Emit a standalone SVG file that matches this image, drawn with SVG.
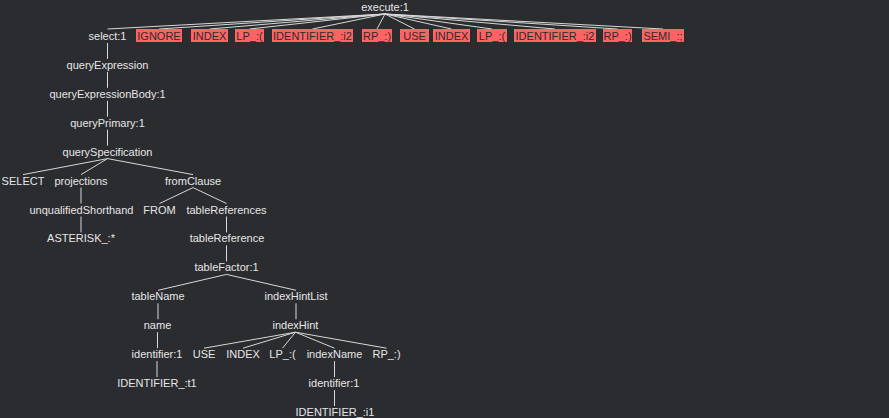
<svg xmlns="http://www.w3.org/2000/svg" width="889" height="418" viewBox="0 0 889 418">
<style>
text{font-family:"Liberation Sans",Arial,sans-serif;font-size:11px;fill:#e6e6e6;text-anchor:middle}
.tok rect{fill:#ff6363}
.tok text{fill:#2b2c30}
#edges line{stroke:#d8d8d8;stroke-width:1}
</style>
<rect width="889" height="418" fill="#2b2c30"/>
<g id="edges">
<line x1="385" y1="14" x2="107.5" y2="29"/>
<line x1="385" y1="14" x2="159" y2="29"/>
<line x1="385" y1="14" x2="209.5" y2="29"/>
<line x1="385" y1="14" x2="249.5" y2="29"/>
<line x1="385" y1="14" x2="312.5" y2="29"/>
<line x1="385" y1="14" x2="377" y2="29"/>
<line x1="385" y1="14" x2="414.5" y2="29"/>
<line x1="385" y1="14" x2="451.5" y2="29"/>
<line x1="385" y1="14" x2="492" y2="29"/>
<line x1="385" y1="14" x2="555" y2="29"/>
<line x1="385" y1="14" x2="617.5" y2="29"/>
<line x1="385" y1="14" x2="663" y2="29"/>
<line x1="107.5" y1="43" x2="107.5" y2="58.9"/>
<line x1="107.5" y1="71.9" x2="107.5" y2="87.8"/>
<line x1="107.5" y1="100.8" x2="107.5" y2="116.7"/>
<line x1="107.5" y1="129.7" x2="107.5" y2="145.6"/>
<line x1="107.5" y1="158.6" x2="23" y2="174.6"/>
<line x1="107.5" y1="158.6" x2="81" y2="174.6"/>
<line x1="107.5" y1="158.6" x2="193" y2="174.6"/>
<line x1="81" y1="187.6" x2="81" y2="203.5"/>
<line x1="193" y1="187.6" x2="159.5" y2="203.5"/>
<line x1="193" y1="187.6" x2="226.5" y2="203.5"/>
<line x1="81" y1="216.5" x2="81" y2="232.4"/>
<line x1="226.5" y1="216.5" x2="226.5" y2="232.4"/>
<line x1="226.5" y1="245.4" x2="226.5" y2="261.4"/>
<line x1="226.5" y1="274.4" x2="158" y2="290.3"/>
<line x1="226.5" y1="274.4" x2="296" y2="290.3"/>
<line x1="158" y1="303.3" x2="158" y2="319.2"/>
<line x1="296" y1="303.3" x2="296" y2="319.2"/>
<line x1="157.5" y1="332.2" x2="157.5" y2="348.2"/>
<line x1="295.5" y1="332.2" x2="204" y2="348.2"/>
<line x1="295.5" y1="332.2" x2="243" y2="348.2"/>
<line x1="295.5" y1="332.2" x2="282.5" y2="348.2"/>
<line x1="295.5" y1="332.2" x2="334.5" y2="348.2"/>
<line x1="295.5" y1="332.2" x2="386.5" y2="348.2"/>
<line x1="157" y1="361.2" x2="157" y2="377.1"/>
<line x1="334.5" y1="361.2" x2="334.5" y2="377.1"/>
<line x1="334.5" y1="390.1" x2="334.5" y2="406"/>
</g>
<g id="n-execute"><text x="385" y="11">execute:1</text></g>
<g id="n-select"><text x="107.5" y="40">select:1</text></g>
<g id="t-ignore" class="tok"><rect x="136" y="29" width="46" height="13"/><text x="159" y="39.5">IGNORE</text></g>
<g id="t-index1" class="tok"><rect x="191" y="29" width="37" height="13"/><text x="209.5" y="39.5">INDEX</text></g>
<g id="t-lp1" class="tok"><rect x="235" y="29" width="29" height="13"/><text x="249.5" y="39.5">LP_:(</text></g>
<g id="t-id1" class="tok"><rect x="272" y="29" width="81" height="13"/><text x="312.5" y="39.5">IDENTIFIER_:i2</text></g>
<g id="t-rp1" class="tok"><rect x="362" y="29" width="30" height="13"/><text x="377" y="39.5">RP_:)</text></g>
<g id="t-use" class="tok"><rect x="400" y="29" width="29" height="13"/><text x="414.5" y="39.5">USE</text></g>
<g id="t-index2" class="tok"><rect x="433" y="29" width="37" height="13"/><text x="451.5" y="39.5">INDEX</text></g>
<g id="t-lp2" class="tok"><rect x="477" y="29" width="30" height="13"/><text x="492" y="39.5">LP_:(</text></g>
<g id="t-id2" class="tok"><rect x="514" y="29" width="82" height="13"/><text x="555" y="39.5">IDENTIFIER_:i2</text></g>
<g id="t-rp2" class="tok"><rect x="603" y="29" width="29" height="13"/><text x="617.5" y="39.5">RP_:)</text></g>
<g id="t-semi" class="tok"><rect x="642" y="29" width="42" height="13"/><text x="663" y="39.5">SEMI_:;</text></g>
<g id="n-queryExpression"><text x="107.5" y="68.9">queryExpression</text></g>
<g id="n-queryExpressionBody"><text x="107.5" y="97.8">queryExpressionBody:1</text></g>
<g id="n-queryPrimary"><text x="107.5" y="126.7">queryPrimary:1</text></g>
<g id="n-querySpecification"><text x="107.5" y="155.6">querySpecification</text></g>
<g id="n-select-kw"><text x="23" y="184.6">SELECT</text></g>
<g id="n-projections"><text x="81" y="184.6">projections</text></g>
<g id="n-fromClause"><text x="193" y="184.6">fromClause</text></g>
<g id="n-unqualifiedShorthand"><text x="81.5" y="213.5">unqualifiedShorthand</text></g>
<g id="n-from"><text x="159.5" y="213.5">FROM</text></g>
<g id="n-tableReferences"><text x="226.5" y="213.5">tableReferences</text></g>
<g id="n-asterisk"><text x="81" y="242.4">ASTERISK_:*</text></g>
<g id="n-tableReference"><text x="227" y="242.4">tableReference</text></g>
<g id="n-tableFactor"><text x="226.5" y="271.4">tableFactor:1</text></g>
<g id="n-tableName"><text x="158" y="300.3">tableName</text></g>
<g id="n-indexHintList"><text x="296" y="300.3">indexHintList</text></g>
<g id="n-name"><text x="157.5" y="329.2">name</text></g>
<g id="n-indexHint"><text x="295.5" y="329.2">indexHint</text></g>
<g id="n-identifier1"><text x="157" y="358.2">identifier:1</text></g>
<g id="n-use"><text x="204" y="358.2">USE</text></g>
<g id="n-index"><text x="243" y="358.2">INDEX</text></g>
<g id="n-lp"><text x="282.5" y="358.2">LP_:(</text></g>
<g id="n-indexName"><text x="334.5" y="358.2">indexName</text></g>
<g id="n-rp"><text x="386.5" y="358.2">RP_:)</text></g>
<g id="n-identifier-t1"><text x="157" y="387.1">IDENTIFIER_:t1</text></g>
<g id="n-identifier2"><text x="334" y="387.1">identifier:1</text></g>
<g id="n-identifier-i1"><text x="335" y="416">IDENTIFIER_:i1</text></g>
</svg>
